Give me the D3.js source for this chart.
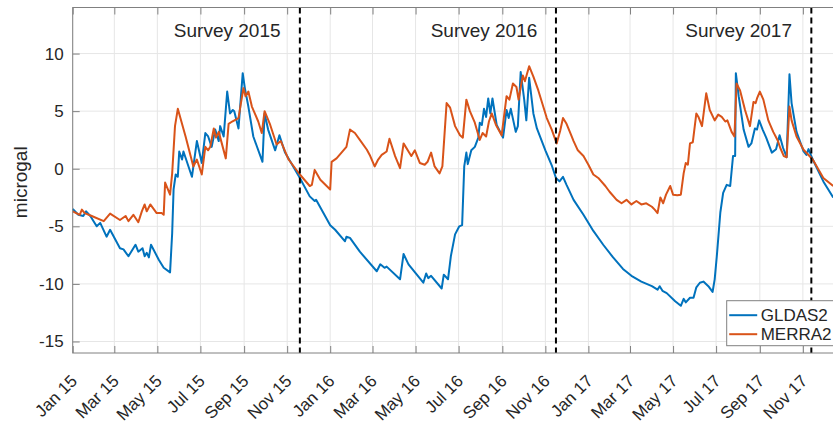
<!DOCTYPE html>
<html>
<head>
<meta charset="utf-8">
<script src="https://d3js.org/d3.v7.min.js"></script>
<style>
  body { margin: 0; background: #fff; }
  svg { display: block; }
  text { font-family: "Liberation Sans", Arial, Helvetica, sans-serif; fill: #262626; }
</style>
</head>
<body>
<div id="chart"></div>
<script>
var w = 833;
var h = 426;

// GLDAS2 gravity effect (microgal)
var gldasDates = [
  "2015-01-01","2015-01-09","2015-01-16","2015-01-20","2015-01-26","2015-02-04","2015-02-09","2015-02-18","2015-02-23",
  "2015-03-09","2015-03-14","2015-03-21","2015-03-31","2015-04-04","2015-04-10","2015-04-13","2015-04-16","2015-04-19",
  "2015-04-22","2015-05-03","2015-05-10","2015-05-19","2015-05-22","2015-05-24","2015-05-27","2015-05-30","2015-06-01",
  "2015-06-05","2015-06-07","2015-06-19","2015-06-26","2015-07-03","2015-07-08","2015-07-12","2015-07-17","2015-07-22",
  "2015-07-27","2015-07-29","2015-08-03","2015-08-08","2015-08-12","2015-08-16","2015-08-18","2015-08-24","2015-08-30",
  "2015-09-02","2015-09-07","2015-09-14","2015-09-27","2015-09-30","2015-10-05","2015-10-15","2015-10-21","2015-10-29",
  "2015-11-19","2015-12-03","2015-12-10","2015-12-12","2016-01-01","2016-01-08","2016-01-22","2016-01-24","2016-01-29",
  "2016-02-12","2016-03-07","2016-03-12","2016-03-18","2016-03-21","2016-04-09","2016-04-14","2016-04-21","2016-05-12",
  "2016-05-16","2016-05-19","2016-05-23","2016-06-07","2016-06-10","2016-06-16","2016-06-20","2016-06-26","2016-07-02",
  "2016-07-06","2016-07-09","2016-07-12","2016-07-14","2016-07-19","2016-07-24","2016-07-29","2016-07-31","2016-08-03",
  "2016-08-06","2016-08-09","2016-08-12","2016-08-15","2016-08-18","2016-08-24","2016-09-02","2016-09-07","2016-09-10",
  "2016-09-13","2016-09-20","2016-09-23","2016-09-27","2016-10-02","2016-10-05","2016-10-09","2016-10-15","2016-10-20",
  "2016-11-01","2016-11-10","2016-11-16","2016-11-21","2016-11-26","2016-12-01","2016-12-11","2016-12-25","2017-01-08",
  "2017-01-22","2017-02-05","2017-02-19","2017-03-03","2017-03-17","2017-04-01","2017-04-09","2017-04-12","2017-04-16",
  "2017-04-22","2017-05-04","2017-05-12","2017-05-16","2017-05-19","2017-05-25","2017-05-30","2017-06-03","2017-06-08",
  "2017-06-13","2017-06-20","2017-06-26","2017-06-29","2017-07-02","2017-07-07","2017-07-11","2017-07-16","2017-07-21",
  "2017-07-25","2017-07-28","2017-07-29","2017-08-02","2017-08-09","2017-08-16","2017-08-20","2017-08-25","2017-08-28",
  "2017-08-31","2017-09-05","2017-09-10","2017-09-18","2017-09-24","2017-09-29","2017-10-04","2017-10-09","2017-10-13",
  "2017-10-16","2017-10-23","2017-11-02","2017-11-06","2017-11-09","2017-11-15","2017-11-30","2017-12-14"
];
var gldasValues = [
  -3.5,-4.0,-4.1,-3.7,-4.1,-5.0,-4.7,-5.9,-5.3,
  -6.9,-7.0,-7.6,-6.6,-7.2,-6.9,-7.6,-7.3,-7.7,
  -6.6,-7.9,-8.6,-9.0,-5.6,-1.8,-0.5,-0.7,1.5,
  0.8,1.5,-0.7,2.4,0.5,3.1,2.8,1.9,3.4,
  2.4,3.7,2.8,6.7,4.8,5.1,5.0,3.5,8.3,
  7.0,5.4,2.8,0.6,4.8,3.4,1.6,2.9,1.4,
  -0.8,-2.4,-2.8,-2.7,-4.9,-5.3,-6.3,-5.9,-6.0,
  -7.2,-8.9,-8.3,-8.6,-8.5,-9.6,-7.4,-8.3,-9.9,
  -9.1,-9.5,-9.3,-10.4,-9.2,-9.6,-7.6,-5.7,-5.0,
  -4.9,0.2,1.4,0.4,1.6,1.9,2.7,4.0,3.8,
  5.2,4.5,6.1,4.8,6.1,3.8,2.7,5.1,4.4,
  5.2,3.2,3.7,8.4,6.0,4.2,7.9,4.8,3.5,
  1.6,0.3,-0.8,-1.1,-0.7,-1.4,-2.7,-4.0,-5.4,
  -6.6,-7.7,-8.7,-9.3,-9.8,-10.2,-10.5,-10.2,-10.6,
  -10.8,-11.5,-11.9,-11.3,-11.6,-11.2,-11.2,-10.3,-9.9,
  -9.8,-10.2,-10.7,-9.6,-7.6,-3.8,-2.1,-1.4,-1.5,
  1.1,1.1,8.3,6.3,3.4,1.9,2.2,3.5,3.4,
  4.2,3.4,2.7,1.4,1.7,2.9,1.8,1.0,8.2,
  5.7,3.2,1.5,1.2,1.7,0.8,-1.1,-2.5
];

// MERRA2 gravity effect (microgal)
var merraDates = [
  "2015-01-01","2015-01-11","2015-01-14","2015-01-18","2015-01-28","2015-02-14","2015-02-23","2015-03-09","2015-03-17",
  "2015-03-21","2015-03-28","2015-04-04","2015-04-09","2015-04-13","2015-04-16","2015-04-21","2015-04-30","2015-05-07",
  "2015-05-10","2015-05-12","2015-05-19","2015-05-22","2015-05-26","2015-05-30","2015-06-10","2015-06-21","2015-06-26",
  "2015-07-03","2015-07-08","2015-07-12","2015-07-15","2015-07-20","2015-07-23","2015-07-27","2015-08-06","2015-08-10",
  "2015-08-15","2015-08-24","2015-08-31","2015-09-03","2015-09-07","2015-09-12","2015-09-21","2015-09-26","2015-09-30",
  "2015-10-08","2015-10-17","2015-10-23","2015-11-03","2015-11-19","2015-12-03","2015-12-06","2015-12-10","2015-12-18",
  "2016-01-01","2016-01-03","2016-01-10","2016-01-17","2016-01-24","2016-01-29","2016-02-05","2016-02-12","2016-02-22",
  "2016-02-26","2016-03-04","2016-03-09","2016-03-14","2016-03-21","2016-03-25","2016-04-02","2016-04-09","2016-04-14",
  "2016-04-21","2016-04-25","2016-04-30","2016-05-07","2016-05-14","2016-05-18","2016-05-23","2016-05-28","2016-06-04",
  "2016-06-08","2016-06-14","2016-06-19","2016-06-26","2016-07-03","2016-07-07","2016-07-12","2016-07-17","2016-07-24",
  "2016-07-31","2016-08-04","2016-08-09","2016-08-13","2016-08-17","2016-08-23","2016-08-31","2016-09-07","2016-09-11",
  "2016-09-16","2016-09-21","2016-09-24","2016-09-30","2016-10-03","2016-10-09","2016-10-15","2016-10-22","2016-11-03",
  "2016-11-10","2016-11-17","2016-11-22","2016-11-26","2016-12-01","2016-12-07","2016-12-11","2016-12-17","2016-12-25",
  "2017-01-01","2017-01-08","2017-01-15","2017-01-25","2017-01-31","2017-02-10","2017-02-17","2017-02-24","2017-03-03",
  "2017-03-10","2017-03-17","2017-03-24","2017-04-01","2017-04-05","2017-04-09","2017-04-13","2017-04-17","2017-04-21",
  "2017-04-27","2017-05-01","2017-05-07","2017-05-12","2017-05-16","2017-05-19","2017-05-22","2017-05-25","2017-05-29",
  "2017-06-03","2017-06-06","2017-06-11","2017-06-17","2017-06-22","2017-06-29","2017-07-04","2017-07-09","2017-07-14",
  "2017-07-17","2017-07-23","2017-07-27","2017-07-30","2017-08-04","2017-08-11","2017-08-18","2017-08-23","2017-08-26",
  "2017-08-28","2017-09-01","2017-09-06","2017-09-13","2017-09-20","2017-09-26","2017-09-30","2017-10-05","2017-10-09",
  "2017-10-13","2017-10-16","2017-10-23","2017-11-02","2017-11-15","2017-11-30","2017-12-14"
];
var merraValues = [
  -3.7,-4.0,-3.55,-3.85,-4.1,-4.55,-3.9,-4.45,-4.1,
  -4.55,-4.0,-4.65,-3.7,-3.1,-3.7,-3.1,-3.85,-3.85,
  -4.0,-1.2,-2.25,-0.4,3.7,5.2,2.8,0.2,0.8,
  -0.5,1.9,1.6,1.9,3.5,2.7,3.2,0.9,3.9,
  4.1,4.4,7.0,6.3,6.7,5.4,4.1,3.1,5.0,
  3.8,2.1,2.4,0.8,-0.5,-1.5,-1.4,-0.1,-0.95,
  -1.8,0.6,0.9,1.4,1.9,3.4,3.1,2.5,1.65,
  1.2,0.2,0.8,1.2,1.5,2.6,1.1,0.05,2.2,
  1.5,1.1,1.6,0.5,0.35,0.6,1.4,0.2,-0.4,
  0.2,5.7,5.3,3.7,2.9,2.7,6.0,5.0,4.0,
  2.5,3.1,2.8,4.1,4.8,3.8,2.9,6.3,6.0,
  7.4,7.1,6.0,8.1,7.6,8.9,8.0,6.8,4.4,
  3.4,2.2,3.3,4.4,3.9,3.0,2.4,1.6,1.1,
  0.35,-0.5,-0.8,-1.5,-2.0,-2.7,-3.0,-2.7,-3.1,
  -2.8,-3.1,-3.0,-3.3,-3.55,-3.85,-2.5,-3.0,-2.25,
  -1.5,-2.25,-2.3,-2.25,-0.4,0.5,0.35,2.2,2.3,
  4.8,4.5,3.7,6.55,5.1,4.2,4.7,4.5,4.1,
  4.2,3.2,2.8,7.4,6.8,5.1,3.7,5.8,5.7,
  6.1,6.7,6.0,4.2,3.2,2.5,1.8,1.1,1.0,
  5.4,4.2,2.8,1.65,0.8,-0.8,-1.5
];

var seriesNames = ["GLDAS2", "MERRA2"];
var seriesColors = ["#0072BD", "#D95319"];
var surveyDates = ["2015-11-19", "2016-11-16", "2017-11-13"];
var surveyLabels = ["Survey 2015", "Survey 2016", "Survey 2017"];
var surveyLabelDates = ["2015-08-08", "2016-08-06", "2017-08-02"];
var surveyLabelValue = 12;
var yTicks = [-15, -10, -5, 0, 5, 10];
var xDomain = ["2015-01-01", "2017-12-31"];
var yDomain = [-16, 14];

var parse = d3.timeParse("%Y-%m-%d");

function toPoints(dates, values){
  return dates.map(function(d, i){ return {date: parse(d), value: values[i]}; });
}
var series = [toPoints(gldasDates, gldasValues), toPoints(merraDates, merraValues)];

var plotLeft = 72.7, plotRight = 845.2, plotTop = 7.5, plotBottom = 353;

var svg = d3.select("#chart")
            .append("svg")
            .attr("width", w)
            .attr("height", h);

var x = d3.scaleTime()
          .domain(xDomain.map(parse))
          .range([plotLeft, plotRight]);
var y = d3.scaleLinear()
          .domain(yDomain)
          .range([plotBottom, plotTop]);

var xTicks = x.ticks(d3.timeMonth.every(2));

// grid
var grid = svg.append("g").attr("class", "grid");
grid.selectAll("line.v")
    .data(xTicks)
    .enter()
    .append("line")
    .attr("x1", function(d){ return x(d); })
    .attr("x2", function(d){ return x(d); })
    .attr("y1", plotTop)
    .attr("y2", plotBottom)
    .attr("stroke", "#e6e6e6");
grid.selectAll("line.h")
    .data(yTicks)
    .enter()
    .append("line")
    .attr("x1", plotLeft)
    .attr("x2", plotRight)
    .attr("y1", function(d){ return y(d); })
    .attr("y2", function(d){ return y(d); })
    .attr("stroke", "#e6e6e6");

// data lines
var line = d3.line()
             .x(function(d){ return x(d.date); })
             .y(function(d){ return y(d.value); });

svg.append("g")
   .selectAll("path")
   .data(series)
   .enter()
   .append("path")
   .attr("d", line)
   .attr("fill", "none")
   .attr("stroke", function(d, i){ return seriesColors[i]; })
   .attr("stroke-width", 2)
   .attr("stroke-linejoin", "round");

// survey markers
svg.append("g")
   .selectAll("line")
   .data(surveyDates)
   .enter()
   .append("line")
   .attr("x1", function(d){ return x(parse(d)); })
   .attr("x2", function(d){ return x(parse(d)); })
   .attr("y1", plotTop)
   .attr("y2", plotBottom)
   .attr("stroke", "#000")
   .attr("stroke-width", 2)
   .attr("stroke-dasharray", "6,4");

svg.append("g")
   .selectAll("text")
   .data(surveyLabels)
   .enter()
   .append("text")
   .attr("x", function(d, i){ return x(parse(surveyLabelDates[i])); })
   .attr("y", y(surveyLabelValue))
   .attr("text-anchor", "middle")
   .attr("dominant-baseline", "central")
   .attr("font-size", 19)
   .text(function(d){ return d; });

// axes box
svg.append("rect")
   .attr("x", plotLeft)
   .attr("y", plotTop)
   .attr("width", plotRight - plotLeft)
   .attr("height", plotBottom - plotTop)
   .attr("fill", "none")
   .attr("stroke", "#808080");

var xAxis = svg.append("g")
               .attr("transform", "translate(0," + plotBottom + ")")
               .call(d3.axisBottom(x).tickValues(xTicks).tickSize(-7)
                       .tickFormat(d3.timeFormat("%b %y")));
xAxis.select(".domain").remove();
xAxis.selectAll(".tick line").attr("stroke", "#808080");
xAxis.selectAll(".tick text")
     .attr("font-size", 17)
     .attr("font-family", "Liberation Sans, Arial, sans-serif")
     .attr("fill", "#262626")
     .attr("x", 0).attr("y", 0).attr("dy", 0)
     .attr("text-anchor", "end")
     .attr("transform", "translate(5,29) rotate(-45)");

var xAxisTop = svg.append("g")
                  .attr("transform", "translate(0," + plotTop + ")")
                  .call(d3.axisTop(x).tickValues(xTicks).tickSize(-7).tickFormat(""));
xAxisTop.select(".domain").remove();
xAxisTop.selectAll(".tick line").attr("stroke", "#808080");

var yAxis = svg.append("g")
               .attr("transform", "translate(" + plotLeft + ",0)")
               .call(d3.axisLeft(y).tickValues(yTicks).tickSize(-7).tickPadding(9)
                       .tickFormat(function(d){ return String(d); }));
yAxis.select(".domain").remove();
yAxis.selectAll(".tick line").attr("stroke", "#808080");
yAxis.selectAll(".tick text")
     .attr("font-size", 17)
     .attr("font-family", "Liberation Sans, Arial, sans-serif")
     .attr("fill", "#262626");

svg.append("text")
   .attr("transform", "translate(27," + ((plotTop + plotBottom) / 2 + 2) + ") rotate(-90)")
   .attr("text-anchor", "middle")
   .attr("font-size", 19)
   .text("microgal");

// legend
var legend = svg.append("g").attr("transform", "translate(726.7,300.7)");
legend.append("rect")
      .attr("width", 120)
      .attr("height", 45)
      .attr("fill", "#fff")
      .attr("stroke", "#808080");
var item = legend.selectAll("g")
                 .data(seriesNames)
                 .enter()
                 .append("g")
                 .attr("transform", function(d, i){ return "translate(0," + (14.5 + i * 19) + ")"; });
item.append("line")
    .attr("x1", 2.5).attr("x2", 30.5)
    .attr("stroke", function(d, i){ return seriesColors[i]; })
    .attr("stroke-width", 2);
item.append("text")
    .attr("x", 34)
    .attr("dominant-baseline", "central")
    .attr("font-size", 17)
    .text(function(d){ return d; });
</script>
</body>
</html>
